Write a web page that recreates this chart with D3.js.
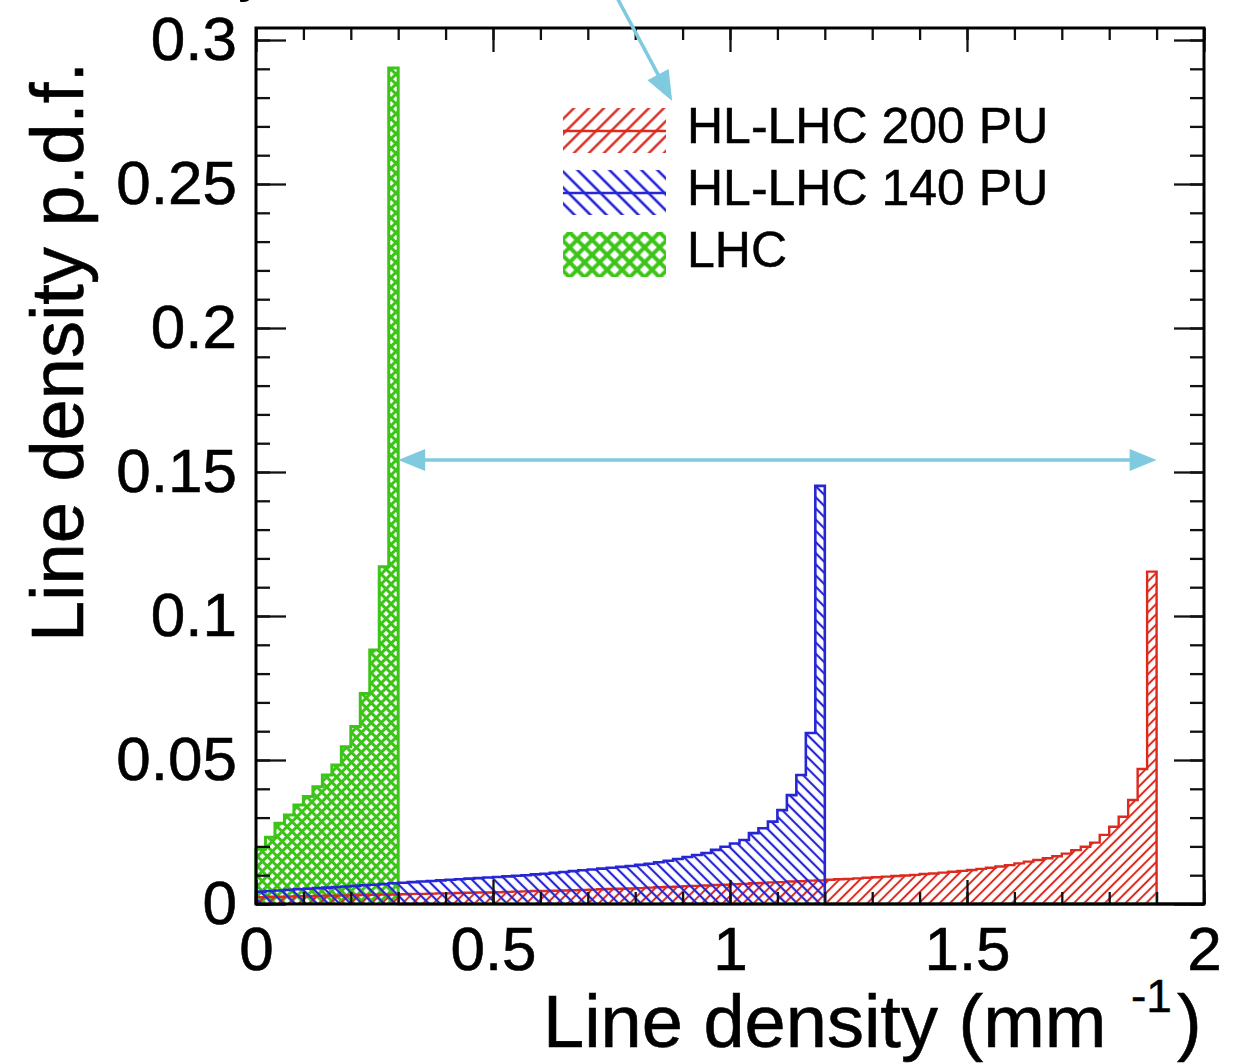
<!DOCTYPE html>
<html><head><meta charset="utf-8">
<script src="https://cdn.jsdelivr.net/npm/d3@7"></script>
<style>
body{margin:0;background:#fff}
svg{display:block}
text{font-family:"Liberation Sans", Arial, Helvetica, sans-serif;fill:#000}
</style>
</head><body>
<svg id="chart" width="1241" height="1064"></svg>
<script>
// ---------------- data ----------------
const binWidth = 0.02;
const xDomain = [0, 2];
const yDomain = [0, 0.30417];

// LHC (bins from 0 to 0.30)
const lhcValues = [0.0190,0.0232,0.0280,0.0309,0.0344,0.0373,0.0407,0.0448,0.0483,0.0546,
                   0.0616,0.0731,0.0882,0.1171,0.2903];
// HL-LHC 140 PU (bins from 0 to 1.20)
const pu140Values = [0.0043,0.0045,0.0047,0.0049,0.0051,0.0053,0.0055,0.0057,0.0059,0.0061,
                     0.0063,0.0065,0.0067,0.0069,0.0072,0.0074,0.0076,0.0078,0.0080,0.0082,
                     0.0084,0.0086,0.0088,0.0090,0.0092,0.0094,0.0096,0.0098,0.0100,0.0103,
                     0.0105,0.0108,0.0111,0.0114,0.0117,0.0120,0.0123,0.0126,0.0129,0.0132,
                     0.0136,0.0140,0.0145,0.0150,0.0156,0.0163,0.0170,0.0177,0.0188,0.0199,
                     0.0210,0.0222,0.0246,0.0263,0.0286,0.0326,0.0378,0.0448,0.0594,0.1452];
// HL-LHC 200 PU (bins from 0 to 1.90)
const pu200Values = [0.0024,0.0025,0.0025,0.0026,0.0027,0.0027,0.0028,0.0029,0.0029,0.0030,
                     0.0031,0.0031,0.0032,0.0033,0.0033,0.0034,0.0035,0.0035,0.0036,0.0037,
                     0.0037,0.0038,0.0039,0.0040,0.0040,0.0041,0.0042,0.0043,0.0044,0.0045,
                     0.0045,0.0046,0.0047,0.0048,0.0049,0.0050,0.0051,0.0052,0.0053,0.0054,
                     0.0055,0.0057,0.0058,0.0059,0.0060,0.0062,0.0063,0.0064,0.0066,0.0067,
                     0.0069,0.0070,0.0072,0.0073,0.0075,0.0076,0.0078,0.0079,0.0081,0.0082,
                     0.0084,0.0086,0.0087,0.0089,0.0091,0.0093,0.0095,0.0097,0.0099,0.0101,
                     0.0104,0.0106,0.0109,0.0112,0.0115,0.0118,0.0122,0.0126,0.0130,0.0135,
                     0.0141,0.0147,0.0153,0.0159,0.0166,0.0175,0.0187,0.0199,0.0213,0.0240,
                     0.0268,0.0303,0.0361,0.0469,0.1154];

const seriesNames = ["HL-LHC 200 PU", "HL-LHC 140 PU", "LHC"];
const xTicks = [0, 0.5, 1, 1.5, 2];
const xTickLabels = ["0", "0.5", "1", "1.5", "2"];
const yTicks = [0, 0.05, 0.1, 0.15, 0.2, 0.25, 0.3];
const yTickLabels = ["0", "0.05", "0.1", "0.15", "0.2", "0.25", "0.3"];
const xTitle = "Line density (mm";
const xTitleSup = "-1";
const yTitle = "Line density p.d.f.";
// annotation arrows in data coordinates
const spanArrow = {x1: 0.30, x2: 1.90, y: 0.1542};
const pointerArrow = {x1: 0.762, y1: 0.3146, x2: 0.878, y2: 0.2788};

// ---------------- styles ----------------
const RED = "#dc2a1f", BLUE = "#2626d6", GREEN = "#3cc518", ARROW = "#7fcadf";

// ---------------- drawing ----------------
const svg = d3.select("#chart");
const x = d3.scaleLinear().domain(xDomain).range([256, 1204]);
const y = d3.scaleLinear().domain(yDomain).range([904, 28]);
const defs = svg.append("defs");

function linePattern(id, color, spacing, angle, width) {
  const p = defs.append("pattern").attr("id", id)
    .attr("patternUnits", "userSpaceOnUse")
    .attr("width", spacing).attr("height", spacing)
    .attr("patternTransform", `rotate(${angle})`);
  p.append("line").attr("x1", spacing / 2).attr("x2", spacing / 2)
    .attr("y1", -1).attr("y2", spacing + 1)
    .attr("stroke", color).attr("stroke-width", width);
}
linePattern("hRed", RED, 7.3, 45, 2.0);
linePattern("hBlue", BLUE, 7.9, -45, 2.2);
linePattern("hGreenA", GREEN, 7.0, 45, 3.0);
linePattern("hGreenB", GREEN, 7.0, -45, 3.0);
linePattern("lRed", RED, 10.6, 45, 2.4);
linePattern("lBlue", BLUE, 11.3, -45, 2.6);
linePattern("lGreenA", GREEN, 10.6, 45, 4.0);
linePattern("lGreenB", GREEN, 10.6, -45, 4.0);

function histPoints(vals) {
  const pts = [[0, 0]];
  vals.forEach((v, i) => { pts.push([i * binWidth, v]); pts.push([(i + 1) * binWidth, v]); });
  pts.push([vals.length * binWidth, 0]);
  return pts;
}
const line = d3.line().x(d => x(d[0])).y(d => y(d[1]));

const series = [
  {vals: lhcValues, fills: ["hGreenA", "hGreenB"], color: GREEN, sw: 3.0},
  {vals: pu200Values, fills: ["hRed"], color: RED, sw: 2.4},
  {vals: pu140Values, fills: ["hBlue"], color: BLUE, sw: 2.6}
];
const gH = svg.append("g");
series.forEach(s => {
  const pts = histPoints(s.vals);
  s.fills.forEach(f => gH.append("path").attr("d", line(pts) + "Z")
    .attr("fill", `url(#${f})`).attr("stroke", "none"));
  const outline = pts.concat([[xDomain[1], 0]]);
  gH.append("path").attr("d", line(outline)).attr("fill", "none")
    .attr("stroke", s.color).attr("stroke-width", s.sw).attr("stroke-linejoin", "miter");
});

// axes / ticks
const yMinor = d3.range(0, 0.3001, 0.01);
const xMinor = d3.range(0, 2.0001, 0.1);
function styleAxis(g) {
  g.select(".domain").remove();
  g.selectAll(".tick line").attr("stroke", "#111").attr("stroke-width", 2.3);
  g.selectAll("text").style("font-size", "62px").attr("fill", "#000")
    .attr("stroke", "#000").attr("stroke-width", 0.6);
}
svg.append("g").attr("transform", "translate(256,0)")
  .call(d3.axisLeft(y).tickValues(yMinor).tickSize(-14).tickFormat("")).call(styleAxis);
svg.append("g").attr("transform", "translate(256,0)")
  .call(d3.axisLeft(y).tickValues(yTicks).tickSize(-30).tickPadding(19)
    .tickFormat((d, i) => yTickLabels[i])).call(styleAxis);
svg.append("g").attr("transform", "translate(1204,0)")
  .call(d3.axisRight(y).tickValues(yMinor).tickSize(-14).tickFormat("")).call(styleAxis);
svg.append("g").attr("transform", "translate(1204,0)")
  .call(d3.axisRight(y).tickValues(yTicks).tickSize(-30).tickFormat("")).call(styleAxis);
svg.append("g").attr("transform", "translate(0,28)")
  .call(d3.axisTop(x).tickValues(xMinor).tickSize(-12).tickFormat("")).call(styleAxis);
svg.append("g").attr("transform", "translate(0,28)")
  .call(d3.axisTop(x).tickValues(xTicks).tickSize(-24).tickFormat("")).call(styleAxis);
svg.append("g").attr("transform", "translate(0,904)")
  .call(d3.axisBottom(x).tickValues(xMinor).tickSize(-12).tickFormat("")).call(styleAxis);
svg.append("g").attr("transform", "translate(0,904)")
  .call(d3.axisBottom(x).tickValues(xTicks).tickSize(-24).tickPadding(22)
    .tickFormat((d, i) => xTickLabels[i])).call(styleAxis);

// frame
svg.append("rect").attr("x", x(xDomain[0])).attr("y", y(yDomain[1]))
  .attr("width", x(xDomain[1]) - x(xDomain[0])).attr("height", y(yDomain[0]) - y(yDomain[1]))
  .attr("fill", "none").attr("stroke", "#000").attr("stroke-width", 3);

// axis titles
svg.append("text").attr("transform", "translate(83,62) rotate(-90)")
  .attr("text-anchor", "end").style("font-size", "74px")
  .attr("stroke", "#000").attr("stroke-width", 0.6).text(yTitle);
svg.append("text").attr("x", 543).attr("y", 1047).style("font-size", "74px")
  .attr("stroke", "#000").attr("stroke-width", 0.6).text(xTitle);
svg.append("text").attr("x", 1131).attr("y", 1012).style("font-size", "46px")
  .attr("stroke", "#000").attr("stroke-width", 0.5).text(xTitleSup);
svg.append("text").attr("x", 1177).attr("y", 1047).style("font-size", "74px")
  .attr("stroke", "#000").attr("stroke-width", 0.6).text(")");
// fragment of a text cut off at the top edge (as in the source image)
svg.append("text").attr("x", 238).attr("y", -10).style("font-size", "60px").text("y");

// legend
const legendFills = [["lRed"], ["lBlue"], ["lGreenA", "lGreenB"]];
const legendColors = [RED, BLUE, GREEN];
const lg = svg.append("g");
seriesNames.forEach((name, i) => {
  const top = 108 + i * 62;
  legendFills[i].forEach(f => lg.append("rect").attr("x", 563).attr("y", top)
    .attr("width", 103).attr("height", 45).attr("fill", `url(#${f})`));
  if (i < 2) lg.append("line").attr("x1", 563).attr("x2", 666)
    .attr("y1", top + 23).attr("y2", top + 23)
    .attr("stroke", legendColors[i]).attr("stroke-width", 2.6);
  lg.append("text").attr("x", 687).attr("y", top + 35).style("font-size", "50px")
    .attr("stroke", "#000").attr("stroke-width", 0.5).text(name);
});

// annotation arrows
function arrowHead(g, tipX, tipY, ux, uy, len, half) {
  const bx = tipX - ux * len, by = tipY - uy * len;
  g.append("polygon").attr("points",
    `${tipX},${tipY} ${bx - uy * half},${by + ux * half} ${bx + uy * half},${by - ux * half}`)
    .attr("fill", ARROW);
}
const ag = svg.append("g");
{
  const x1 = x(spanArrow.x1), x2 = x(spanArrow.x2), yy = y(spanArrow.y);
  ag.append("line").attr("x1", x1 + 20).attr("x2", x2 - 20).attr("y1", yy).attr("y2", yy)
    .attr("stroke", ARROW).attr("stroke-width", 3.5);
  arrowHead(ag, x1, yy, -1, 0, 27, 11);
  arrowHead(ag, x2, yy, 1, 0, 27, 11);
}
{
  const x1 = x(pointerArrow.x1), y1 = y(pointerArrow.y1), x2 = x(pointerArrow.x2), y2 = y(pointerArrow.y2);
  const L = Math.hypot(x2 - x1, y2 - y1), ux = (x2 - x1) / L, uy = (y2 - y1) / L;
  ag.append("line").attr("x1", x1).attr("y1", y1).attr("x2", x2 - ux * 20).attr("y2", y2 - uy * 20)
    .attr("stroke", ARROW).attr("stroke-width", 3.5);
  arrowHead(ag, x2, y2, ux, uy, 30, 12);
}
</script>
</body></html>
